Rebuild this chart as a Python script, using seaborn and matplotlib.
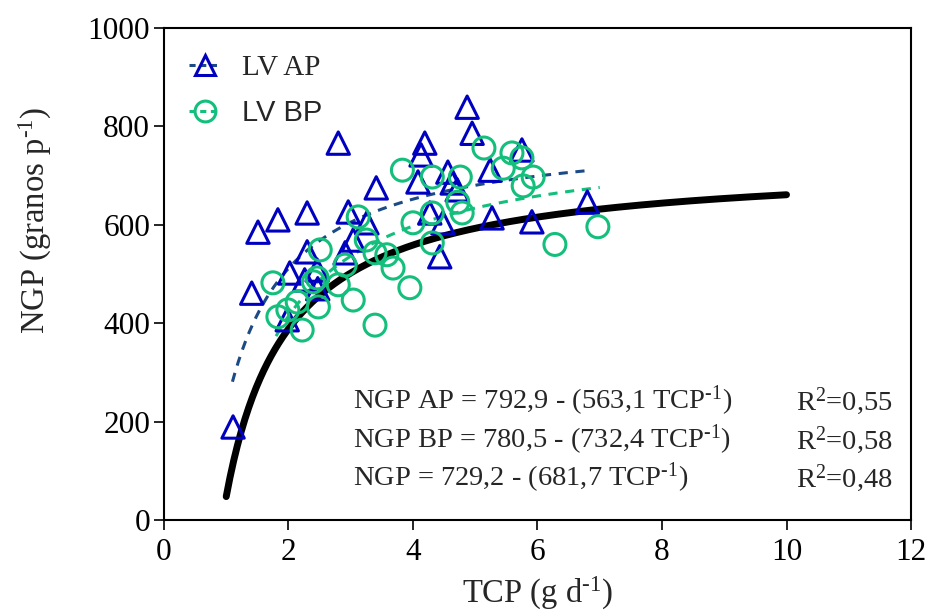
import numpy as np
import pandas as pd
import matplotlib
matplotlib.use("Agg")
import matplotlib.pyplot as plt
from matplotlib.lines import Line2D
import seaborn as sns

# ---- data ----
ap_x = [1.11, 1.41, 1.51, 1.83, 1.98, 2.02, 2.26, 2.30, 2.30, 2.46, 2.47, 2.80, 2.91,
        2.96, 3.04, 3.26, 3.41, 4.08, 4.13, 4.19, 4.27, 4.43, 4.48, 4.56, 4.63, 4.71,
        4.87, 4.95, 5.24, 5.27, 5.75, 5.91, 6.80]
ap_y = [189, 461, 585, 610, 407, 502, 488, 624, 545, 508, 470, 766, 543,
        626, 569, 604, 675, 687, 742, 766, 624, 535, 604, 707, 685, 671,
        839, 786, 711, 614, 752, 606, 646]

bp_x = [1.75, 1.83, 1.99, 2.14, 2.22, 2.40, 2.46, 2.48, 2.51, 2.80, 2.91, 3.04, 3.12,
        3.25, 3.39, 3.39, 3.58, 3.68, 3.83, 3.95, 4.00, 4.31, 4.31, 4.31, 4.72, 4.76,
        4.79, 5.14, 5.45, 5.59, 5.75, 5.77, 5.93, 6.28, 6.97]
bp_y = [482, 413, 427, 443, 386, 484, 492, 433, 549, 478, 518, 447, 616,
        569, 543, 396, 539, 512, 711, 472, 604, 624, 697, 563, 646, 697,
        624, 756, 715, 746, 736, 679, 697, 560, 596]

# fitted models y = a - b / x  (coefficients from the equations shown)
fit_names = ["AP", "BP", "ALL"]
fit_a = [792.9, 780.5, 729.2]
fit_b = [563.1, 732.4, 681.7]
fit_xmin = [1.1, 1.8, 1.0]
fit_xmax = [6.8, 7.0, 10.0]

SUP = "$^{\\mathrm{\\text{-1}}}$"
eq_labels = ["NGP AP = 792,9 - (563,1 TCP" + SUP + ")",
             "NGP BP = 780,5 - (732,4 TCP" + SUP + ")",
             "NGP = 729,2 - (681,7 TCP" + SUP + ")"]
r2_labels = ["R$^{\\mathrm{2}}$=0,55", "R$^{\\mathrm{2}}$=0,58", "R$^{\\mathrm{2}}$=0,48"]

legend_labels = ["LV AP", "LV BP"]
x_ticks = [0, 2, 4, 6, 8, 10, 12]
y_ticks = [0, 200, 400, 600, 800, 1000]

# ---- styling ----
sns.set_theme(style="white")
plt.rcParams["font.family"] = ["Liberation Serif", "DejaVu Serif"]
plt.rcParams["mathtext.fontset"] = "custom"
plt.rcParams["mathtext.rm"] = "Liberation Serif"
plt.rcParams["mathtext.it"] = "Liberation Serif:italic"
plt.rcParams["axes.unicode_minus"] = False

BLUE = "#0000C0"
NAVY = "#1B4A86"
GREEN = "#14BF7C"

fig = plt.figure(figsize=(9.3, 6.11), dpi=100)
ax = fig.add_axes([0.1763, 0.149, 0.8033, 0.8052])

# fitted curves
line_styles = [dict(color=NAVY, lw=2.2, ls=(0, (3, 2.5))),
               dict(color=GREEN, lw=2.2, ls=(0, (3, 2.5))),
               dict(color="black", lw=5, ls="-")]
for name, a, b, x0, x1, st in zip(fit_names, fit_a, fit_b, fit_xmin, fit_xmax, line_styles):
    xs = np.linspace(x0, x1, 300)
    df = pd.DataFrame({"x": xs, "y": a - b / xs})
    sns.lineplot(data=df, x="x", y="y", ax=ax, color=st["color"], lw=st["lw"],
                 linestyle=st["ls"], zorder=2, legend=False)

# scatter points
sns.scatterplot(x=ap_x, y=ap_y, ax=ax, marker="^", s=260, facecolors="none",
                edgecolor=BLUE, linewidth=2.2, zorder=3)
sns.scatterplot(x=bp_x, y=bp_y, ax=ax, marker="o", s=250, facecolors="none",
                edgecolor=GREEN, linewidth=2.2, zorder=4)

ax.set_xlim(0, 12)
ax.set_ylim(0, 1000)
ax.set_xticks(x_ticks)
ax.set_yticks(y_ticks)
ax.tick_params(axis="both", which="both", direction="out", length=7, width=1.2,
               labelsize=22.5, bottom=True, left=True, top=False, right=False,
               colors="black")
ax.tick_params(axis="x", pad=6)
ax.tick_params(axis="y", pad=3)
for sp in ax.spines.values():
    sp.set_visible(True)
    sp.set_color("black")
    sp.set_linewidth(1.5)

ax.set_xlabel("TCP (g d" + SUP + ")", fontsize=23.5, labelpad=6)
ax.set_ylabel("NGP (granos p" + SUP + ")", fontsize=23.5)
ax.yaxis.set_label_coords(-0.147, 0.61)

# equations
eq_y = [242, 163, 85]
for lab, r2, y in zip(eq_labels, r2_labels, eq_y):
    ax.text(3.04, y, lab, fontsize=20.5, va="center", ha="left")
    ax.text(11.71, y, r2, fontsize=20.5, va="center", ha="right")

# legend
handles = [Line2D([0], [0], color=NAVY, ls=(0, (2, 1.5)), lw=2.2, marker="^",
                  markersize=15, mfc="none", mec=BLUE, mew=2.2),
           Line2D([0], [0], color=GREEN, ls=(0, (2, 1.5)), lw=2.2, marker="o",
                  markersize=15, mfc="none", mec=GREEN, mew=2.2)]
leg = ax.legend(handles, legend_labels, loc="upper left", bbox_to_anchor=(-0.005, 1.005),
                frameon=False, fontsize=21, handlelength=1.05, handletextpad=0.75,
                labelspacing=0.62, borderaxespad=0.6)
leg.get_texts()[1].set_family(["Liberation Sans", "DejaVu Sans"])

fig.savefig("out.png", dpi=100)
